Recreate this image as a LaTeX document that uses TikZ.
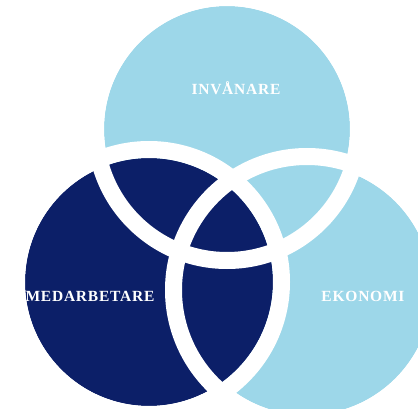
\documentclass[tikz,border=0pt]{standalone}
\usepackage{fontspec}
\newfontfamily\lblfont[LetterSpace=5]{Liberation Serif}
\definecolor{lightb}{RGB}{157,215,233}
\definecolor{navyb}{RGB}{12,31,104}
\begin{document}
\begin{tikzpicture}[x=1pt,y=-1pt,
  ringw/.style={draw=white,line width=17pt},
  lbl/.style={text=white,font=\lblfont\bfseries\fontsize{15.5}{18}\selectfont,inner sep=0pt}]
\useasboundingbox (0,0) rectangle (418,409);
\clip (0,0) rectangle (418,409);
\coordinate (ct) at (227,129);
\coordinate (cl) at (149,282);
\coordinate (cr) at (307,290);
\fill[lightb] (ct) circle[radius=123];
\fill[lightb] (cr) circle[radius=125];
\fill[navyb] (cl) circle[radius=124];
\draw[ringw] (ct) circle[radius=131.5];
\draw[ringw] (cr) circle[radius=133.5];
\draw[ringw] (cl) circle[radius=132.5];
\node[lbl] (inv) at (236,88) {INVÅNARE};
\node[lbl] (med) at (90,296) {MEDARBETARE};
\node[lbl] (eko) at (363,296) {EKONOMI};
\end{tikzpicture}
\end{document}
